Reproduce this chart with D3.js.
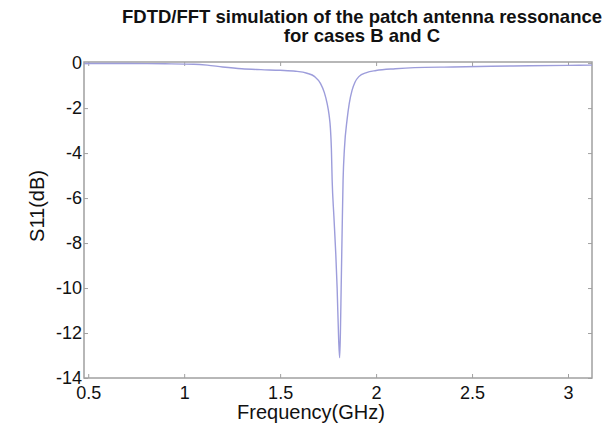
<!DOCTYPE html>
<html>
<head>
<meta charset="utf-8">
<script src="https://cdn.jsdelivr.net/npm/d3@7"></script>
<style>
  body { margin: 0; background: #fff; }
  text { font-family: "Liberation Sans", Arial, sans-serif; }
</style>
</head>
<body>
<div id="chart"></div>
<script>
var width = 611, height = 424;
var margin = {top: 62, right: 19, bottom: 46, left: 84};

// S11 response
var freq = [0.48, 0.7, 0.9, 1.05, 1.12, 1.2, 1.3, 1.4, 1.5, 1.58, 1.64, 1.68, 1.71, 1.73,
            1.745, 1.755, 1.762, 1.767, 1.771, 1.78, 1.79, 1.797, 1.805, 1.81, 1.814, 1.818,
            1.823, 1.828, 1.835, 1.849, 1.86, 1.875, 1.89, 1.91, 1.95, 2.0, 2.1, 2.2, 2.4,
            2.6, 2.8, 3.0, 3.125];
var s11 = [-0.02, -0.02, -0.03, -0.05, -0.09, -0.17, -0.25, -0.29, -0.32, -0.36, -0.45, -0.6, -0.9, -1.3,
           -1.8, -2.3, -2.9, -3.8, -5.2, -6.8, -8.5, -10.0, -12.3, -13.1, -12.0, -10.0,
           -7.5, -5.2, -3.8, -2.5, -1.8, -1.2, -0.85, -0.6, -0.42, -0.33, -0.25, -0.2, -0.17,
           -0.14, -0.12, -0.1, -0.09];
var xTicks = [0.5, 1, 1.5, 2, 2.5, 3];
var yTicks = [0, -2, -4, -6, -8, -10, -12, -14];
var titleLines = ["FDTD/FFT simulation of the patch antenna ressonance", "for cases B and C"];

var axisColor = "#a0a0a0";
var lineColor = "#9d9ddb";

var svg = d3.select("#chart").append("svg")
    .attr("width", width)
    .attr("height", height);

var x = d3.scaleLinear().domain([0.478, 3.125]).range([margin.left, width - margin.right]);
var y = d3.scaleLinear().domain([-14, 0.05]).range([height - margin.bottom, margin.top]);

// box
svg.append("rect")
    .attr("x", margin.left)
    .attr("y", margin.top)
    .attr("width", width - margin.left - margin.right)
    .attr("height", height - margin.top - margin.bottom)
    .attr("fill", "none")
    .attr("stroke", axisColor)
    .attr("stroke-width", 1.5);

// axes, ticks pointing inwards
var tickLen = 4;
var fmt = function(d){ return String(d); };
var axBottom = svg.append("g")
    .attr("transform", "translate(0," + (height - margin.bottom) + ")")
    .call(d3.axisBottom(x).tickValues(xTicks).tickSize(-tickLen).tickFormat(fmt));
var axTop = svg.append("g")
    .attr("transform", "translate(0," + margin.top + ")")
    .call(d3.axisTop(x).tickValues(xTicks).tickSize(-tickLen).tickFormat(""));
var axLeft = svg.append("g")
    .attr("transform", "translate(" + margin.left + ",0)")
    .call(d3.axisLeft(y).tickValues(yTicks).tickSize(-tickLen).tickFormat(fmt));
var axRight = svg.append("g")
    .attr("transform", "translate(" + (width - margin.right) + ",0)")
    .call(d3.axisRight(y).tickValues(yTicks).tickSize(-tickLen).tickFormat(""));

[axBottom, axTop, axLeft, axRight].forEach(function(g){
    g.select(".domain").remove();
    g.selectAll(".tick line").attr("stroke", axisColor);
    g.selectAll(".tick text")
        .attr("fill", "#111")
        .style("font-size", "18px");
});
axBottom.selectAll(".tick text").attr("y", 8).attr("dy", "0.71em");
axLeft.selectAll(".tick text").attr("x", -2).attr("dy", "0.3em");

// curve
var line = d3.line()
    .x(function(d, i){ return x(freq[i]); })
    .y(function(d){ return y(d); })
    .curve(d3.curveMonotoneX);

svg.append("path")
    .datum(s11)
    .attr("d", line)
    .attr("fill", "none")
    .attr("stroke", lineColor)
    .attr("stroke-width", 1.4);

// labels
svg.append("text")
    .attr("x", 311)
    .attr("y", 419)
    .attr("text-anchor", "middle")
    .style("font-size", "20px")
    .attr("fill", "#111")
    .text("Frequency(GHz)");

svg.append("text")
    .attr("transform", "translate(44,206) rotate(-90)")
    .attr("text-anchor", "middle")
    .style("font-size", "20px")
    .attr("fill", "#111")
    .text("S11(dB)");

svg.selectAll(".title")
    .data(titleLines)
    .enter()
    .append("text")
    .attr("class", "title")
    .attr("x", 362)
    .attr("y", function(d, i){ return 23 + i * 19; })
    .attr("text-anchor", "middle")
    .style("font-size", "18.5px")
    .style("font-weight", "bold")
    .attr("fill", "#111")
    .text(function(d){ return d; });
</script>
</body>
</html>
